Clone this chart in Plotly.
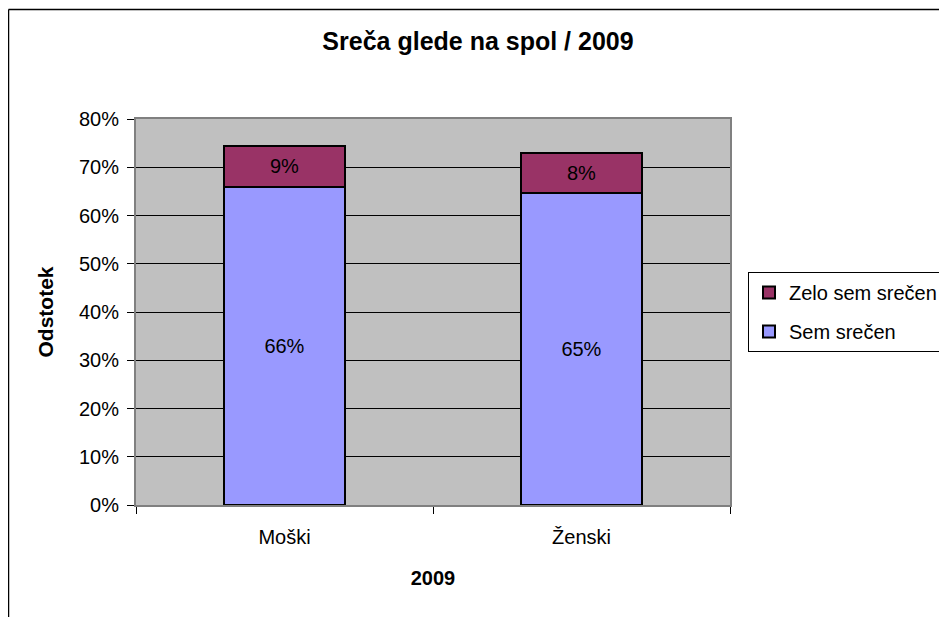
import plotly.graph_objects as go

categories = ["Moški", "Ženski"]
sem_srecen = [65.9, 64.6]
zelo_sem_srecen = [8.6, 8.3]
series_names = ["Sem srečen", "Zelo sem srečen"]
tick_values = [0, 10, 20, 30, 40, 50, 60, 70, 80]

FONT = "Arial, 'Liberation Sans', sans-serif"

# page has an 8px body margin; figure coordinates = page coordinates - 8
W, H = 939, 609
L, T, PW, PH = 128, 111, 594, 386

fig = go.Figure()
fig.add_trace(go.Bar(
    x=categories, y=sem_srecen, name=series_names[0],
    marker=dict(color="#9999FF", line=dict(color="black", width=2)),
    texttemplate="%{y:.0f}%", textposition="inside", insidetextanchor="middle",
    textfont=dict(family=FONT, size=20, color="black"),
    width=0.405, legendgroup="a", legendrank=2,
))
fig.add_trace(go.Bar(
    x=categories, y=zelo_sem_srecen, name=series_names[1],
    marker=dict(color="#993366", line=dict(color="black", width=2)),
    texttemplate="%{y:.0f}%", textposition="inside", insidetextanchor="middle",
    textfont=dict(family=FONT, size=20, color="black"),
    width=0.405, legendgroup="b", legendrank=1,
))

fig.update_layout(
    width=W, height=H,
    margin=dict(l=L, r=W - L - PW, t=T, b=H - T - PH, autoexpand=False),
    barmode="stack",
    paper_bgcolor="white",
    plot_bgcolor="#C0C0C0",
    font=dict(family=FONT, size=20, color="black"),
    title=dict(text="<b>Sreča glede na spol / 2009</b>", x=470/W, xanchor="center",
               xref="container", y=1-33/H, yanchor="middle", yref="container",
               font=dict(size=25, color="black", family=FONT)),
    showlegend=True,
    legend=dict(x=(740-L)/PW, y=(T+PH-264)/PH, xanchor="left", yanchor="top",
                bordercolor="black", borderwidth=1, bgcolor="white",
                traceorder="grouped", tracegroupgap=10,
                font=dict(size=20, family=FONT, color="black")),
    xaxis=dict(
        title=dict(text="<b>2009</b>", font=dict(size=20), standoff=24),
        showline=True, linecolor="#808080", linewidth=2, mirror=True,
        ticks="outside", tickson="boundaries", ticklen=7, tickcolor="black",
        tickfont=dict(size=20), showgrid=False, ticklabelstandoff=13,
    ),
    yaxis=dict(
        title=dict(text="<b>Odstotek</b>", font=dict(size=21), standoff=20),
        range=[0, 80], tickvals=tick_values,
        ticktext=[f"{v}%" for v in tick_values],
        showline=True, linecolor="#808080", linewidth=2, mirror=True,
        ticks="outside", ticklen=7, tickcolor="black",
        showgrid=True, gridcolor="black", gridwidth=1,
        tickfont=dict(size=20), zeroline=False, ticklabelstandoff=4,
    ),
    shapes=[
        dict(type="line", xref="paper", yref="paper",
             x0=(0.5-L)/PW, x1=(W+20-L)/PW, y0=(T+PH-1.5)/PH, y1=(T+PH-1.5)/PH,
             line=dict(color="black", width=1.5)),
        dict(type="line", xref="paper", yref="paper",
             x0=(0.5-L)/PW, x1=(0.5-L)/PW, y0=(T+PH-1.5)/PH, y1=(T+PH-H-20)/PH,
             line=dict(color="black", width=1.5)),
    ],
)

fig.write_html("out.html")
